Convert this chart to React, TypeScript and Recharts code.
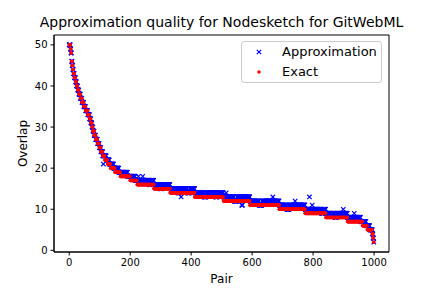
import React from "react";
import { ReferenceArea, Scatter, ScatterChart, XAxis, YAxis } from "recharts";

// exact overlap, run-length encoded in pair order (value, number of pairs)
const exactLevels = [
  50, 49, 48, 46, 45, 44, 43, 42, 41, 40, 39, 38, 37, 36, 35, 34, 33, 32, 31, 30,
  29, 28, 27, 26, 25, 24, 23, 22, 21, 20, 19, 18, 17, 16, 15, 14, 13, 12, 11, 10,
  9, 8, 7, 6, 5, 4, 3, 2,
];
const exactCounts = [
  4, 2, 2, 2, 2, 2, 3, 4, 3, 4, 4, 5, 5, 6, 6, 7, 6, 4, 4, 3,
  4, 5, 6, 6, 5, 6, 7, 9, 10, 14, 18, 32, 23, 55, 53, 81, 94, 87, 96, 85,
  68, 71, 49, 16, 16, 3, 2, 1,
];

// approximated overlap, run-length encoded in the same pair order
const approxLevels = [
  50, 49, 48, 46, 45, 44, 43, 42, 41, 40, 39, 38, 37, 36, 35, 34, 33, 32, 31, 30,
  29, 28, 27, 26, 25, 24,
  23, 21, 23,
  23, 22,
  22, 21,
  21, 20,
  20, 19,
  19, 18,
  18, 17,
  17, 18, 17, 18, 17, 16, 17,
  16, 15, 16,
  15, 14, 15, 13, 15, 14, 15,
  14, 13, 14, 13, 14,
  13, 14, 13, 12, 13, 11, 13,
  12, 11, 12, 13, 12,
  11, 10, 11, 12, 11,
  10, 13, 10, 11, 10, 9, 10,
  9, 8, 9, 10, 9,
  8, 9, 8, 7,
  7, 6,
  6, 5,
  5, 4,
  3,
  2,
];
const approxCounts = [
  4, 2, 2, 2, 2, 2, 3, 4, 3, 4, 4, 5, 5, 6, 6, 7, 6, 4, 4, 3,
  4, 5, 6, 6, 5, 6,
  2, 1, 4,
  5, 4,
  6, 4,
  10, 4,
  13, 5,
  24, 8,
  17, 6,
  4, 1, 13, 1, 20, 6, 10,
  20, 6, 27,
  25, 6, 5, 1, 20, 8, 16,
  30, 8, 30, 6, 20,
  9, 1, 25, 10, 15, 3, 24,
  30, 10, 35, 1, 20,
  25, 8, 19, 1, 32,
  14, 1, 8, 1, 30, 6, 8,
  30, 6, 21, 1, 13,
  22, 1, 20, 6,
  12, 4,
  8, 8,
  1, 2,
  2,
  1,
];

const xTicks = [0, 200, 400, 600, 800, 1000];
const yTicks = [0, 10, 20, 30, 40, 50];

function expandRuns(levels: number[], counts: number[]) {
  const out: { pair: number; value: number }[] = [];
  levels.forEach((v, k) => {
    for (let j = 0; j < counts[k]; j++) out.push({ pair: out.length, value: v });
  });
  return out;
}

const exactData = expandRuns(exactLevels, exactCounts);
const approxData = expandRuns(approxLevels, approxCounts);

const FONT = "DejaVu Sans, sans-serif";
const BLUE = "#0000ff";
const RED = "#ff0000";

function Cross({ cx, cy }: { cx?: number; cy?: number }) {
  if (cx == null || cy == null) return null;
  const r = 2.2;
  return (
    <path
      d={`M${cx - r},${cy - r}L${cx + r},${cy + r}M${cx - r},${cy + r}L${cx + r},${cy - r}`}
      stroke={BLUE}
      strokeWidth={1.2}
      fill="none"
    />
  );
}

function Dot({ cx, cy }: { cx?: number; cy?: number }) {
  if (cx == null || cy == null) return null;
  return <circle cx={cx} cy={cy} r={1.8} fill={RED} />;
}

function LegendBox() {
  return (
    <div
      style={{
        position: "absolute",
        left: 241,
        top: 41,
        width: 141,
        height: 42,
        border: "1px solid #cccccc",
        borderRadius: 3,
        background: "rgba(255,255,255,0.8)",
        fontFamily: FONT,
        fontSize: 13,
        color: "#000",
        boxSizing: "border-box",
      }}
    >
      <svg width={20} height={42} style={{ position: "absolute", left: 8, top: 0 }}>
        <Cross cx={9} cy={10} />
        <Dot cx={9} cy={30} />
      </svg>
      <span style={{ position: "absolute", left: 40, top: 2, lineHeight: "16px" }}>Approximation</span>
      <span style={{ position: "absolute", left: 40, top: 22, lineHeight: "16px" }}>Exact</span>
    </div>
  );
}

export default function App() {
  return (
    <div style={{ position: "absolute", left: 0, top: 0, width: 432, height: 288, background: "#fff" }}>
      <div
        style={{
          position: "absolute",
          left: 0,
          width: 443,
          top: 14,
          textAlign: "center",
          fontFamily: FONT,
          fontSize: 14,
          lineHeight: "17px",
          color: "#000",
        }}
      >
        Approximation quality for Nodesketch for GitWebML
      </div>
      <ScatterChart width={432} height={288} margin={{ top: 35, right: 43, bottom: 0, left: 0 }}>
        <XAxis
          type="number"
          dataKey="pair"
          domain={[-50, 1049]}
          ticks={xTicks}
          allowDataOverflow
          height={36}
          tickSize={3.5}
          tickMargin={3}
          stroke="#000"
          tick={{ fill: "#000", fontSize: 10, fontFamily: FONT }}
          label={(props: any) => {
            const vb = props.viewBox || {};
            return (
              <text
                x={vb.x + vb.width / 2}
                y={283}
                textAnchor="middle"
                fontSize={12}
                fontFamily={FONT}
                fill="#000"
              >
                Pair
              </text>
            );
          }}
        />
        <YAxis
          type="number"
          dataKey="value"
          domain={[-0.4, 52.4]}
          ticks={yTicks}
          allowDataOverflow
          width={54}
          tickSize={3.5}
          tickMargin={3}
          stroke="#000"
          tick={{ fill: "#000", fontSize: 10, fontFamily: FONT }}
          label={(props: any) => {
            const vb = props.viewBox || {};
            const cy = vb.y + vb.height / 2;
            return (
              <text
                x={27}
                y={cy}
                transform={`rotate(-90, 27, ${cy})`}
                textAnchor="middle"
                fontSize={12}
                fontFamily={FONT}
                fill="#000"
              >
                Overlap
              </text>
            );
          }}
        />
        <Scatter
          name="Approximation"
          data={approxData}
          shape={<Cross />}
          isAnimationActive={false}
        />
        <Scatter name="Exact" data={exactData} shape={<Dot />} isAnimationActive={false} />
        <ReferenceArea
          x1={-50}
          x2={1049}
          y1={-0.4}
          y2={52.4}
          fill="none"
          stroke="#000"
          strokeWidth={1}
          fillOpacity={0}
          ifOverflow="extendDomain"
        />
      </ScatterChart>
      <LegendBox />
    </div>
  );
}
